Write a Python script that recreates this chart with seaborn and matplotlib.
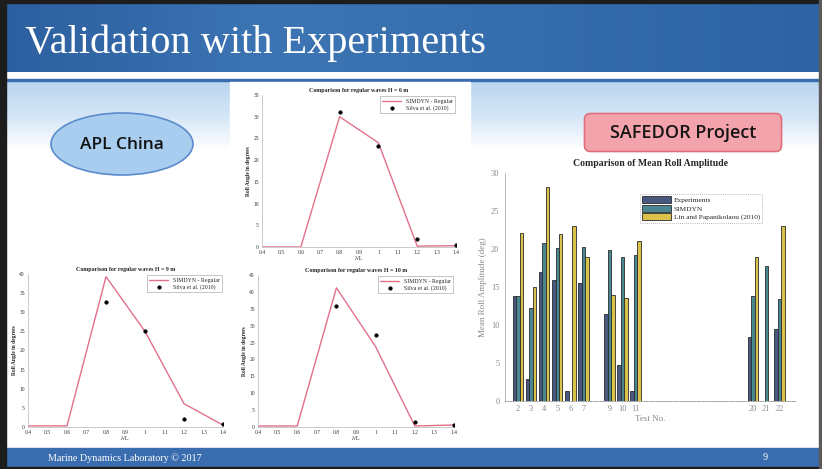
import numpy as np
import pandas as pd
import matplotlib
matplotlib.use("Agg")
import matplotlib.pyplot as plt
import seaborn as sns
from matplotlib.patches import Ellipse, FancyBboxPatch, Rectangle
from matplotlib.colors import LinearSegmentedColormap

# ---------------- data ----------------
wave_ratio = [0.4, 0.5, 0.6, 0.8, 1.0, 1.2, 1.4]
silva_ratio = [0.8, 1.0, 1.2, 1.4]

simdyn_h6 = [0.0, 0.0, 0.0, 30.0, 24.0, 0.2, 0.3]
silva_h6 = [31.0, 23.2, 1.9, 0.5]

simdyn_h9 = [0.3, 0.3, 0.3, 39.3, 25.0, 6.1, 0.5]
silva_h9 = [32.6, 25.0, 2.0, 0.9]

simdyn_h10 = [0.3, 0.3, 0.3, 41.2, 23.8, 0.3, 0.6]
silva_h10 = [35.7, 27.3, 1.5, 0.7]

ratio_ticks = [0.4, 0.5, 0.6, 0.7, 0.8, 0.9, 1.0, 1.1, 1.2, 1.3, 1.4]
ratio_tick_labels = ["0.4", "0.5", "0.6", "0.7", "0.8", "0.9", "1", "1.1", "1.2", "1.3", "1.4"]

tests = [2, 3, 4, 5, 6, 7, 9, 10, 11, 20, 21, 22]
experiments = [13.8, 2.9, 17.0, 15.9, 1.3, 15.5, 11.5, 4.7, 1.3, 8.4, 0.0, 9.5]
simdyn_bars = [13.8, 12.3, 20.8, 20.1, 0.0, 20.2, 19.9, 19.0, 19.2, 13.8, 17.8, 13.4]
lin_papanikolaou = [22.1, 15.0, 28.2, 22.0, 23.0, 19.0, 13.9, 13.5, 21.0, 18.9, 0.0, 23.0]
series_names = ["Experiments", "SIMDYN", "Lin and Papanikolaou (2010)"]

W, H = 822, 469
fig = plt.figure(figsize=(W / 100, H / 100), dpi=100)
sns.set_style("white")
plt.rcParams['font.family'] = ['Liberation Serif', 'DejaVu Serif']

# ---------------- slide background ----------------
bg = fig.add_axes([0, 0, 1, 1], zorder=-10)
bg.set_xlim(0, W)
bg.set_ylim(H, 0)
bg.axis("off")

# light blue texture fading to white at the top of the content area
fade = LinearSegmentedColormap.from_list("fade", ["#b9d5ef", "#d3e5f6", "#ffffff"])
grad = np.linspace(0, 1, 120).reshape(-1, 1)
bg.imshow(grad, cmap=fade, extent=(0, W, 150, 80), aspect="auto", zorder=0)

# banner
bcmap = LinearSegmentedColormap.from_list("ban", ["#2c5f9f", "#3d75b4", "#356cab", "#2e64a6"])
bgrad = np.linspace(0, 1, 200).reshape(1, -1)
bg.imshow(bgrad, cmap=bcmap, extent=(0, W, 72, 0), aspect="auto", zorder=1)
bg.add_patch(Rectangle((0, 0), W, 3, color="#1d1d1d", zorder=2))
bg.add_patch(Rectangle((0, 79), W, 2.2, color="#3a6db0", zorder=2))
bg.text(25, 53, "Validation with Experiments", color="white", fontsize=29,
        family=["Liberation Serif"], ha="left", va="baseline", zorder=3)

# chart image boxes (white)
for (x0, y0, w, h) in [(230, 82, 240, 174), (7, 257, 228, 189), (235, 257, 235, 189)]:
    bg.add_patch(Rectangle((x0, y0), w, h, color="white", zorder=2))

# footer
bg.add_patch(Rectangle((0, 448), W, 19, color="#3a6db0", zorder=2))
bg.add_patch(Rectangle((0, 467), W, 2, color="#1d1d1d", zorder=2))
bg.text(48, 458, "Marine Dynamics Laboratory © 2017", color="white", fontsize=7.3,
        va="center", ha="left", zorder=3)
bg.text(765, 458, "9", color="white", fontsize=7.3, va="center", ha="center", zorder=3)

# borders
bg.add_patch(Rectangle((0, 0), 6, H, color="#1d1d1d", zorder=4))
bg.add_patch(Rectangle((819, 0), 3, H, color="#5a5a5a", zorder=4))

# APL China ellipse
bg.add_patch(Ellipse((122, 144), 142, 62, facecolor="#a8cdef", edgecolor="#5b8bcc",
                     lw=1.2, zorder=3))
bg.text(122, 145, "APL China", fontsize=12.5, family=["Open Sans", "DejaVu Sans"],
        fontweight="semibold", color="#111111", ha="center", va="center", zorder=4)

# SAFEDOR Project box
bg.add_patch(FancyBboxPatch((587, 116), 192, 33, boxstyle="round,pad=2.5,rounding_size=6",
                            facecolor="#f3a3ab", edgecolor="#e0707c", lw=1.2, zorder=3))
bg.text(683, 133, "SAFEDOR Project", fontsize=13, family=["Open Sans", "DejaVu Sans"],
        fontweight="semibold", color="#151515", ha="center", va="center", zorder=4)

# ---------------- line panels ----------------
PINK = "#e3708a"


def line_panel(left, top, right, bottom, sim, silva, title, ymax):
    rect = [left / W, 1 - bottom / H, (right - left) / W, (bottom - top) / H]
    ax = fig.add_axes(rect)
    ax.set_facecolor("none")
    sns.lineplot(x=wave_ratio, y=sim, ax=ax, color=PINK, lw=1.0,
                 label="SIMDYN - Regular")
    sns.scatterplot(x=silva_ratio, y=silva, ax=ax, color="black", s=7,
                    edgecolor="black", linewidth=0.3, zorder=3,
                    label="Silva et al. (2010)")
    ax.set_xlim(0.4, 1.4)
    ax.set_ylim(0, ymax)
    ax.set_xticks(ratio_ticks)
    ax.set_xticklabels(ratio_tick_labels)
    ax.set_yticks(np.arange(0, ymax + 1, 5))
    ax.tick_params(labelsize=4, length=1.2, width=0.4, pad=1, colors="#333333")
    for s in ["top", "right"]:
        ax.spines[s].set_visible(False)
    for s in ["left", "bottom"]:
        ax.spines[s].set_color("#b5b5b5")
        ax.spines[s].set_linewidth(0.5)
    ax.set_title(title, fontsize=4.3, fontweight="bold", pad=2)
    ax.set_xlabel("λ/L", fontsize=4.5, labelpad=1)
    ax.set_ylabel("Roll Angle in degrees", fontsize=4, fontweight="bold", labelpad=2)
    leg = ax.legend(loc="upper right", fontsize=4.2, frameon=True, fancybox=False,
                    borderpad=0.4, handlelength=3.2, labelspacing=0.3,
                    borderaxespad=0.2, markerscale=1.0)
    leg.get_frame().set_edgecolor("#9a9a9a")
    leg.get_frame().set_linewidth(0.5)
    return ax


line_panel(262, 95, 456, 247, simdyn_h6, silva_h6, "Comparison for regular waves H = 6 m", 35)
line_panel(28, 274, 223, 427, simdyn_h9, silva_h9, "Comparison for regular waves H = 9 m", 40)
line_panel(258, 275, 454, 427, simdyn_h10, silva_h10, "Comparison for regular waves H = 10 m", 45)

# ---------------- bar panel ----------------
df = pd.DataFrame({
    "test": tests * 3,
    "value": experiments + simdyn_bars + lin_papanikolaou,
    "series": [series_names[0]] * len(tests) + [series_names[1]] * len(tests)
              + [series_names[2]] * len(tests),
})
left, top, right, bottom = 505, 173, 795, 401
axb = fig.add_axes([left / W, 1 - bottom / H, (right - left) / W, (bottom - top) / H])
axb.set_facecolor("none")
sns.barplot(data=df, x="test", y="value", hue="series", hue_order=series_names,
            native_scale=True, errorbar=None, ax=axb,
            palette=["#3f5688", "#3f8e9f", "#f3d232"], edgecolor="#2b2b2b",
            linewidth=0.6, width=0.8)
axb.set_xlim(1, 23.2)
axb.set_ylim(0, 30)
axb.set_xticks(tests)
axb.set_xticklabels([str(t) for t in tests])
axb.set_yticks(np.arange(0, 31, 5))
axb.tick_params(axis="x", length=0, labelsize=6, colors="#8a8a8a", pad=3)
axb.tick_params(axis="y", length=2, width=0.5, labelsize=6, colors="#8a8a8a", pad=2)
for s in ["top", "right"]:
    axb.spines[s].set_visible(False)
axb.spines["left"].set_color("#b0b0b0")
axb.spines["left"].set_linewidth(0.6)
axb.spines["bottom"].set_color("#9a9a9a")
axb.spines["bottom"].set_linewidth(0.7)
axb.spines["bottom"].set_linestyle((0, (1, 1.5)))
axb.set_title("Comparison of Mean Roll Amplitude", fontsize=7, fontweight="bold", pad=5)
axb.set_xlabel("Test No.", fontsize=6.5, color="#8a8a8a", labelpad=1)
axb.set_ylabel("Mean Roll Amplitude (deg)", fontsize=6.5, color="#8a8a8a", labelpad=3)
h, l = axb.get_legend_handles_labels()
legb = axb.legend(h, l, loc="upper left", bbox_to_anchor=(0.452, 0.925), fontsize=5.3,
                  frameon=True, fancybox=False, handlelength=4.0, handleheight=1.1,
                  borderpad=0.3, labelspacing=0.2, handletextpad=0.3)
legb.get_frame().set_edgecolor("#8a8a8a")
legb.get_frame().set_linestyle((0, (1, 1.5)))
legb.get_frame().set_linewidth(0.6)

fig.savefig("out.png", dpi=100)
